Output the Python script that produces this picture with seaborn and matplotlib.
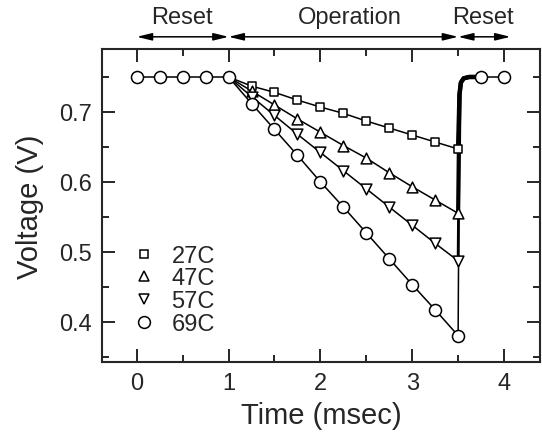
import numpy as np
import pandas as pd
import seaborn as sns
import matplotlib
matplotlib.use("Agg")
import matplotlib.pyplot as plt
from matplotlib.lines import Line2D
from matplotlib.ticker import MultipleLocator

# reset phase (all temperatures sit at the reset level)
reset1_t = [0.0, 0.25, 0.5, 0.75, 1.0]
reset2_t = [3.75, 4.0]
reset_v = 0.75

# operation phase, sampled every 0.25 ms
op_t = [1.0, 1.25, 1.5, 1.75, 2.0, 2.25, 2.5, 2.75, 3.0, 3.25, 3.5]
v27 = [0.750, 0.737, 0.728, 0.717, 0.707, 0.698, 0.687, 0.677, 0.667, 0.657, 0.647]
v47 = [0.750, 0.730, 0.710, 0.690, 0.671, 0.652, 0.634, 0.613, 0.593, 0.574, 0.555]
v57 = [0.750, 0.722, 0.695, 0.668, 0.642, 0.616, 0.590, 0.564, 0.538, 0.512, 0.487]
v69 = [0.750, 0.712, 0.675, 0.638, 0.600, 0.564, 0.527, 0.490, 0.453, 0.417, 0.380]

# recovery back to reset level after 3.5 ms (first value is the series' last)
rise_t = [3.5, 3.515, 3.53, 3.56, 3.62, 3.75]
rise_v = [0.725, 0.742, 0.748, 0.750, 0.750]

labels = ['27C', '47C', '57C', '69C']
series = [v27, v47, v57, v69]
markers = ['s', '^', 'v', 'o']
msizes = [40, 60, 60, 75]
rise_lw = [3.2, 3.0, 2.0, 1.1]

sns.set_style("ticks")
plt.rcParams['font.family'] = ['Liberation Sans', 'DejaVu Sans']

fig = plt.figure(figsize=(5.42, 4.35), dpi=100)
ax = fig.add_axes([0.188, 0.165, 0.808, 0.72])

for v, lw in zip(series, rise_lw):
    sns.lineplot(x=op_t, y=v, ax=ax, color='k', lw=1.1, sort=False, estimator=None)
    sns.lineplot(x=rise_t, y=[v[-1]] + rise_v, ax=ax, color='k', lw=lw,
                 sort=False, estimator=None)

sns.lineplot(x=reset1_t, y=[reset_v] * len(reset1_t), ax=ax, color='k', lw=1.1)
sns.lineplot(x=reset2_t, y=[reset_v] * len(reset2_t), ax=ax, color='k', lw=1.1)

for v, m, s in zip(series, markers, msizes):
    sns.scatterplot(x=op_t[1:], y=v[1:], ax=ax, marker=m, s=s, facecolor='white',
                    edgecolor='k', linewidth=1.1, zorder=3)

sns.scatterplot(x=reset1_t + reset2_t, y=[reset_v] * 7, ax=ax, marker='o', s=75,
                facecolor='white', edgecolor='k', linewidth=1.1, zorder=4)

ax.set_xlim(-0.38, 4.39)
ax.set_ylim(0.342, 0.79)
ax.xaxis.set_major_locator(MultipleLocator(1))
ax.xaxis.set_minor_locator(MultipleLocator(0.5))
ax.yaxis.set_major_locator(MultipleLocator(0.1))
ax.yaxis.set_minor_locator(MultipleLocator(0.05))
ax.tick_params(which='both', direction='in', top=True, right=True, width=1.4,
               labelsize=17, pad=7)
ax.tick_params(which='major', length=9.5)
ax.tick_params(which='minor', length=5)
for sp in ax.spines.values():
    sp.set_linewidth(1.5)

ax.set_xlabel('Time (msec)', fontsize=21, labelpad=5)
ax.set_ylabel('Voltage (V)', fontsize=21, labelpad=11)

# phase arrows above the axes
arrow_y = 1.039
phases = [(0.0, 1.0, 'Reset', 0.49), (1.0, 3.5, 'Operation', 2.32), (3.5, 4.07, 'Reset', 3.77)]
for x0, x1, name, xc in phases:
    ax.annotate('', xy=(x1, arrow_y), xytext=(x0, arrow_y),
                xycoords=('data', 'axes fraction'), textcoords=('data', 'axes fraction'),
                arrowprops=dict(arrowstyle='<|-|>,head_length=0.9,head_width=0.22',
                                color='k', lw=1.1, shrinkA=0, shrinkB=0),
                annotation_clip=False)
    ax.text(xc, 1.102, name, transform=ax.get_xaxis_transform(), ha='center',
            va='center', fontsize=17)

handles = [Line2D([], [], ls='none', marker=m, markersize=ms, markerfacecolor='white',
                  markeredgecolor='k', markeredgewidth=1.1)
           for m, ms in zip(markers, [6, 7.5, 7.5, 8.5])]
ax.legend(handles, labels, loc='upper left', bbox_to_anchor=(0.07, 0.375),
          frameon=False, fontsize=17, handlelength=1.0, handletextpad=0.65,
          labelspacing=0.03, borderpad=0, borderaxespad=0)

plt.savefig('out.png', dpi=100)
